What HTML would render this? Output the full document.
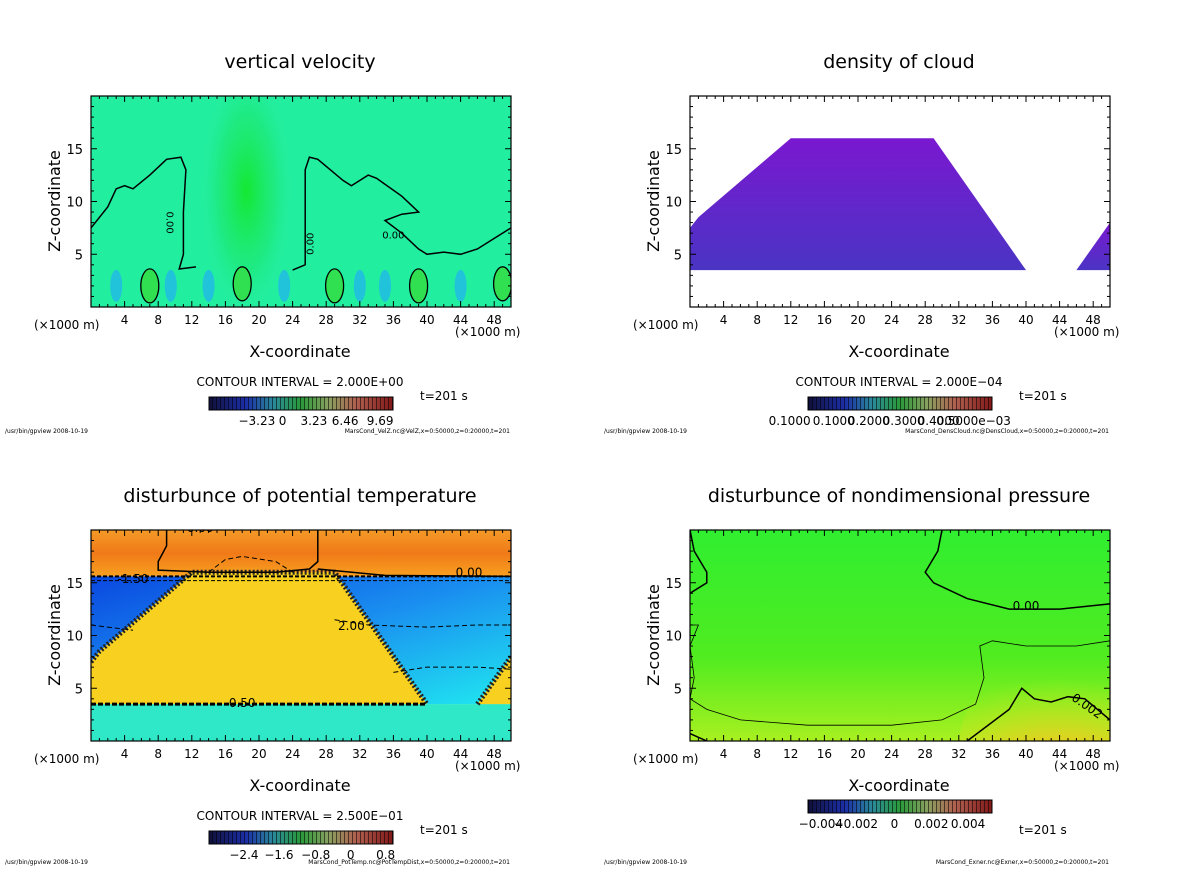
<!DOCTYPE html>
<html><head><meta charset="utf-8"><style>
html,body{margin:0;padding:0;background:#fff}
svg text{font-family:"DejaVu Sans","Liberation Sans",sans-serif;fill:#000}
</style></head><body>
<svg id="s" width="1200" height="868" viewBox="0 0 1200 868" xmlns="http://www.w3.org/2000/svg">
<defs>
<linearGradient id="cb" x1="0" x2="1" y1="0" y2="0">
<stop offset="0" stop-color="#10103a"/><stop offset="0.2" stop-color="#1c2ea8"/><stop offset="0.35" stop-color="#2a8a9a"/>
<stop offset="0.5" stop-color="#2a9a3a"/><stop offset="0.65" stop-color="#8aa060"/><stop offset="0.8" stop-color="#b06050"/><stop offset="1" stop-color="#801818"/></linearGradient>
<pattern id="stripe" width="4" height="20" patternUnits="userSpaceOnUse"><rect x="0" width="1" height="20" fill="rgba(0,0,0,0.55)"/></pattern>
<radialGradient id="g1" cx="0.5" cy="0.5" r="0.5"><stop offset="0" stop-color="#14e830"/><stop offset="0.6" stop-color="#1ce870" stop-opacity="0.6"/><stop offset="1" stop-color="#22eea0" stop-opacity="0"/></radialGradient>
<linearGradient id="cloudG" x1="0" y1="0" x2="0" y2="1"><stop offset="0" stop-color="#7a18d0"/><stop offset="1" stop-color="#4a34c4"/></linearGradient>
<linearGradient id="blueG" x1="0" y1="0" x2="1" y2="1"><stop offset="0" stop-color="#0a48e0"/><stop offset="0.5" stop-color="#1a90f0"/><stop offset="1" stop-color="#20e8f0"/></linearGradient>
<linearGradient id="topG" x1="0" y1="0" x2="0" y2="1"><stop offset="0" stop-color="#f49a28"/><stop offset="0.5" stop-color="#f07a18"/><stop offset="1" stop-color="#f8a020"/></linearGradient>
<radialGradient id="bump" cx="0.5" cy="1" r="0.6"><stop offset="0" stop-color="#30e020"/><stop offset="0.4" stop-color="#d8f020"/><stop offset="1" stop-color="#f8d020" stop-opacity="0"/></radialGradient>
<linearGradient id="p4G" x1="0" y1="0" x2="0" y2="1"><stop offset="0" stop-color="#30ee30"/><stop offset="0.6" stop-color="#50ec20"/><stop offset="1" stop-color="#a8f020"/></linearGradient>
<radialGradient id="p4hot" cx="0.5" cy="1" r="0.9"><stop offset="0" stop-color="#f06010"/><stop offset="0.45" stop-color="#f8c020"/><stop offset="1" stop-color="#c8f020" stop-opacity="0"/></radialGradient>
<clipPath id="c1"><rect x="91" y="96" width="420" height="211"/></clipPath>
<clipPath id="c2"><rect x="690" y="96" width="420" height="211"/></clipPath>
<clipPath id="c3"><rect x="91" y="530" width="420" height="211"/></clipPath>
<clipPath id="c4"><rect x="690" y="530" width="420" height="211"/></clipPath>
</defs>
</svg>
<script>
// ---- data ----
const xTicks=[4,8,12,16,20,24,28,32,36,40,44,48];
const zTicks=[5,10,15];
const cloudShape=[[0,3.5],[0,7.5],[1,8.5],[12,16],[29,16],[40,3.5]];
const cloudRight=[[46,3.5],[50,8],[50,3.5]];
const vvContourLeft=[[0,7.5],[2,9.5],[3,11.2],[4,11.5],[5,11.2],[7,12.5],[9,14],[10.7,14.2],[11.3,13],[11,9],[11,5],[10.5,3.6],[12.5,3.8]];
const vvContourRight=[[24,3.5],[25.5,4],[25.5,8],[25.5,13],[26,14.2],[27,14],[30,12],[31,11.5],[33,12.5],[34,12.2],[37,10.5],[39,9],[37,8.8],[35,8.2],[37,7],[39,5.5],[40,5],[42,5.2],[44,5],[46,5.5],[48,6.5],[50,7.5]];
const vvBlobs=[[7,2],[18,2.2],[29,2],[39,2],[49,2.2]];
const vvBlue=[[3,2],[9.5,2],[14,2],[23,2],[32,2],[35,2],[44,2]];
const ptZero=[[9,20],[9,18.5],[8,17],[8,16.2],[14,16],[22,16],[26,16.3],[27,17],[27,20]];
const ptZero2=[[27,16.3],[35,15.7],[50,15.6]];
const ptDash=[[14,16],[16,17.2],[18,17.5],[22,17],[24,16]];
const ptDash2=[[0,11],[5,10.5]];
const ptDash3=[[29,11.5],[33,11],[40,10.8],[46,11],[50,11]];
const ptDash4=[[36,6.5],[40,7],[46,7],[50,6.8]];
const epZero=[[0,20],[0.5,18],[2,16],[2,15],[0,14]];
const epZero2=[[30,20],[29.5,18],[28,16],[29,15],[33,13.5],[38,12.5],[44,12.5],[50,13]];
const epThin=[[0,11],[1,11],[0,9],[0.5,6],[0,4],[2,3],[6,2],[14,1.5],[24,1.5],[30,2],[34,3.5],[35,6],[34.5,9],[36,9.5],[40,9],[46,9],[50,9.5]];
const epHot=[[33,0],[38,3],[39.5,5],[41,4],[43,3.7],[45,4.2],[47,4],[50,2]];
const epLow=[[0,0.7],[2,0]];
const colorbars=[
 {x:209,y:397,w:184,labels:["\u22123.23","0","3.23","6.46","9.69"],pos:[0.26,0.4,0.57,0.74,0.93],ci:"CONTOUR INTERVAL = 2.000E+00",ciY:386},
 {x:808,y:397,w:184,labels:["0.1000","0.1000","0.2000","0.3000","0.4000","0.5000e\u221203"],pos:[-0.1,0.14,0.33,0.52,0.71,0.9],ci:"CONTOUR INTERVAL = 2.000E\u221204",ciY:386},
 {x:209,y:831,w:184,labels:["\u22122.4","\u22121.6","\u22120.8","0","0.8"],pos:[0.19,0.38,0.58,0.77,0.96],ci:"CONTOUR INTERVAL = 2.500E\u221201",ciY:820},
 {x:808,y:800,w:184,labels:["\u22120.004","\u22120.002","0","0.002","0.004"],pos:[0.07,0.26,0.47,0.67,0.87],ci:null}
];
const panels=[
 {ox:91,oy:96,title:"vertical velocity",foot:"MarsCond_VelZ.nc@VelZ,x=0:50000,z=0:20000,t=201",tY:400,footY:433},
 {ox:690,oy:96,title:"density of cloud",foot:"MarsCond_DensCloud.nc@DensCloud,x=0:50000,z=0:20000,t=201",tY:400,footY:433},
 {ox:91,oy:530,title:"disturbunce of potential temperature",foot:"MarsCond_PotTemp.nc@PotTempDist,x=0:50000,z=0:20000,t=201",tY:834,footY:864},
 {ox:690,oy:530,title:"disturbunce of nondimensional pressure",foot:"MarsCond_Exner.nc@Exner,x=0:50000,z=0:20000,t=201",tY:834,footY:864}
];
// ---- drawing ----
const NS="http://www.w3.org/2000/svg";const S=document.getElementById('s');
function el(t,a,p){const e=document.createElementNS(NS,t);for(const k in a)e.setAttribute(k,a[k]);(p||S).appendChild(e);return e;}
function txt(x,y,s,size,anchor,p){const e=el('text',{x:x,y:y,'font-size':size,'text-anchor':anchor||'middle'},p);e.textContent=s;return e;}
function mk(P){return {sx:x=>P.ox+x/50*420,sz:z=>P.oy+211-z/20*211};}
function pts(arr,m){return arr.map(p=>m.sx(p[0]).toFixed(1)+','+m.sz(p[1]).toFixed(1)).join(' ');}
function line(arr,m,g,opt){const e=el('polyline',Object.assign({points:pts(arr,m),fill:'none',stroke:'#000','stroke-width':1.5},opt||{}),g);return e;}
function poly(arr,m,g,fill){return el('polygon',{points:pts(arr,m),fill:fill},g);}

panels.forEach((P,i)=>{
 const m=mk(P);
 const g=el('g',{'clip-path':'url(#c'+(i+1)+')'});
 
 
 if(i===0){
  el('rect',{x:P.ox,y:P.oy,width:420,height:211,fill:'#22eea0'},g);
  el('ellipse',{cx:m.sx(18.5),cy:m.sz(11),rx:48,ry:130,fill:'url(#g1)'},g);
  vvBlue.forEach(b=>{const e=el('ellipse',{cx:m.sx(b[0]),cy:m.sz(b[1]),rx:6,ry:16,fill:'#20b8e8',opacity:0.8},g);});
  vvBlobs.forEach(b=>{const e=el('ellipse',{cx:m.sx(b[0]),cy:m.sz(b[1]),rx:9,ry:17,fill:'#30e050',stroke:'#000','stroke-width':1.3},g);});
  line(vvContourLeft,m,g);line(vvContourRight,m,g);
  txt(m.sx(9),m.sz(8),'0.00',10,'middle',g).setAttribute('transform','rotate(90 '+m.sx(9)+' '+m.sz(8)+')');
  txt(m.sx(26.5),m.sz(6),'0.00',10,'middle',g).setAttribute('transform','rotate(-90 '+m.sx(26.5)+' '+m.sz(6)+')');
  txt(m.sx(36),m.sz(6.5),'0.00',10,'middle',g);
 }else if(i===1){
  const c=poly(cloudShape,m,g,'url(#cloudG)');
  poly(cloudRight,m,g,'url(#cloudG)');
 }else if(i===2){
  el('rect',{x:P.ox,y:m.sz(20),width:420,height:m.sz(15.6)-m.sz(20),fill:'url(#topG)'},g);
  el('ellipse',{cx:m.sx(18),cy:m.sz(16),rx:55,ry:30,fill:'url(#bump)'},g);
  el('rect',{x:P.ox,y:m.sz(15.6),width:420,height:m.sz(3.5)-m.sz(15.6),fill:'url(#blueG)'},g);
  el('rect',{x:P.ox,y:m.sz(3.5),width:420,height:m.sz(0)-m.sz(3.5),fill:'#2ee8c8'},g);
  const c=poly(cloudShape,m,g,'#f8d020');
  poly(cloudRight,m,g,'#f8d020');
  line(cloudShape.slice(1),m,g,{'stroke-width':5,'stroke-dasharray':'2,2','stroke':'#222'});
  line(cloudRight.slice(0,2),m,g,{'stroke-width':5,'stroke-dasharray':'2,2','stroke':'#222'});
  line([[0,3.5],[40,3.5]],m,g,{'stroke-width':3,'stroke-dasharray':'5,2'});
  line([[0,15.6],[50,15.6]],m,g,{'stroke-width':2,'stroke-dasharray':'4,2'});
  line([[0,15.2],[50,15.2]],m,g,{'stroke-width':1,'stroke-dasharray':'4,2'});
  line(ptZero,m,g);line(ptZero2,m,g);
  line(ptDash,m,g,{'stroke-width':1,'stroke-dasharray':'5,3'});
  line(ptDash2,m,g,{'stroke-width':1,'stroke-dasharray':'5,3'});
  line(ptDash3,m,g,{'stroke-width':1,'stroke-dasharray':'5,3'});
  line(ptDash4,m,g,{'stroke-width':1,'stroke-dasharray':'5,3'});
  txt(m.sx(13),m.sz(19.8),'0.00',12,'middle',g);txt(m.sx(45),m.sz(15.6),'0.00',12,'middle',g);
  txt(m.sx(31),m.sz(10.5),'2.00',12,'middle',g);txt(m.sx(18),m.sz(3.2),'0.50',12,'middle',g);
  txt(m.sx(5),m.sz(15),'-1.50',12,'middle',g);
 }else{
  el('rect',{x:P.ox,y:P.oy,width:420,height:211,fill:'url(#p4G)'},g);
  el('ellipse',{cx:m.sx(44),cy:m.sz(0),rx:100,ry:80,fill:'url(#p4hot)'},g);
  line(epZero,m,g);line(epZero2,m,g);line(epThin,m,g,{'stroke-width':0.8});
  line(epHot,m,g);line(epLow,m,g);
  txt(m.sx(40),m.sz(12.4),'0.00',12,'middle',g);
  txt(m.sx(47),m.sz(3),'0.002',12,'middle',g).setAttribute('transform','rotate(35 '+m.sx(47)+' '+m.sz(3)+')');
 }
 const f=el('rect',{x:P.ox,y:P.oy,width:420,height:211,fill:'none',stroke:'#000','stroke-width':1.2});
 
 for(let x=1;x<50;x++){const L=x%4===0?6:3;el('line',{x1:m.sx(x),x2:m.sx(x),y1:P.oy+211,y2:P.oy+211-L,stroke:'#000'});el('line',{x1:m.sx(x),x2:m.sx(x),y1:P.oy,y2:P.oy+L,stroke:'#000'});}
 for(let z=1;z<20;z++){const L=z%5===0?6:3;el('line',{x1:P.ox,x2:P.ox+L,y1:m.sz(z),y2:m.sz(z),stroke:'#000'});el('line',{x1:P.ox+420,x2:P.ox+420-L,y1:m.sz(z),y2:m.sz(z),stroke:'#000'});}
 xTicks.forEach(x=>{const t=txt(m.sx(x),P.oy+228,String(x),12);});
 zTicks.forEach(z=>{const t=txt(P.ox-8,m.sz(z)+5,String(z),13,'end');});
 const tt=txt(P.ox+209,P.oy-28,P.title,19);
 txt(P.ox-57,P.oy+233,'(\u00d71000 m)',12,'start');
 txt(P.ox+364,P.oy+240,'(\u00d71000 m)',12,'start');
 const xl=txt(P.ox+209,P.oy+261,'X-coordinate',16);
 const yx=P.ox-31,yy=P.oy+105;const yl=txt(yx,yy,'Z-coordinate',16);yl.setAttribute('transform','rotate(-90 '+yx+' '+yy+')');
 
 txt(P.ox+329,P.tY,'t=201 s',12,'start');
 txt(P.ox-86,P.footY,'/usr/bin/gpview   2008-10-19',6,'start');
 txt(P.ox+419,P.footY,P.foot,6,'end');
 const C=colorbars[i];
 if(C.ci){const c=txt(C.x+91,C.ciY,C.ci,12);}
 const cb=el('rect',{x:C.x,y:C.y,width:C.w,height:13,fill:'url(#cb)',stroke:'#000'});
 
 el('rect',{x:C.x,y:C.y,width:C.w,height:13,fill:'url(#stripe)'});
 C.labels.forEach((l,k)=>{const t=txt(C.x+C.pos[k]*C.w,C.y+28,l,12);});
});
</script>
</body></html>
